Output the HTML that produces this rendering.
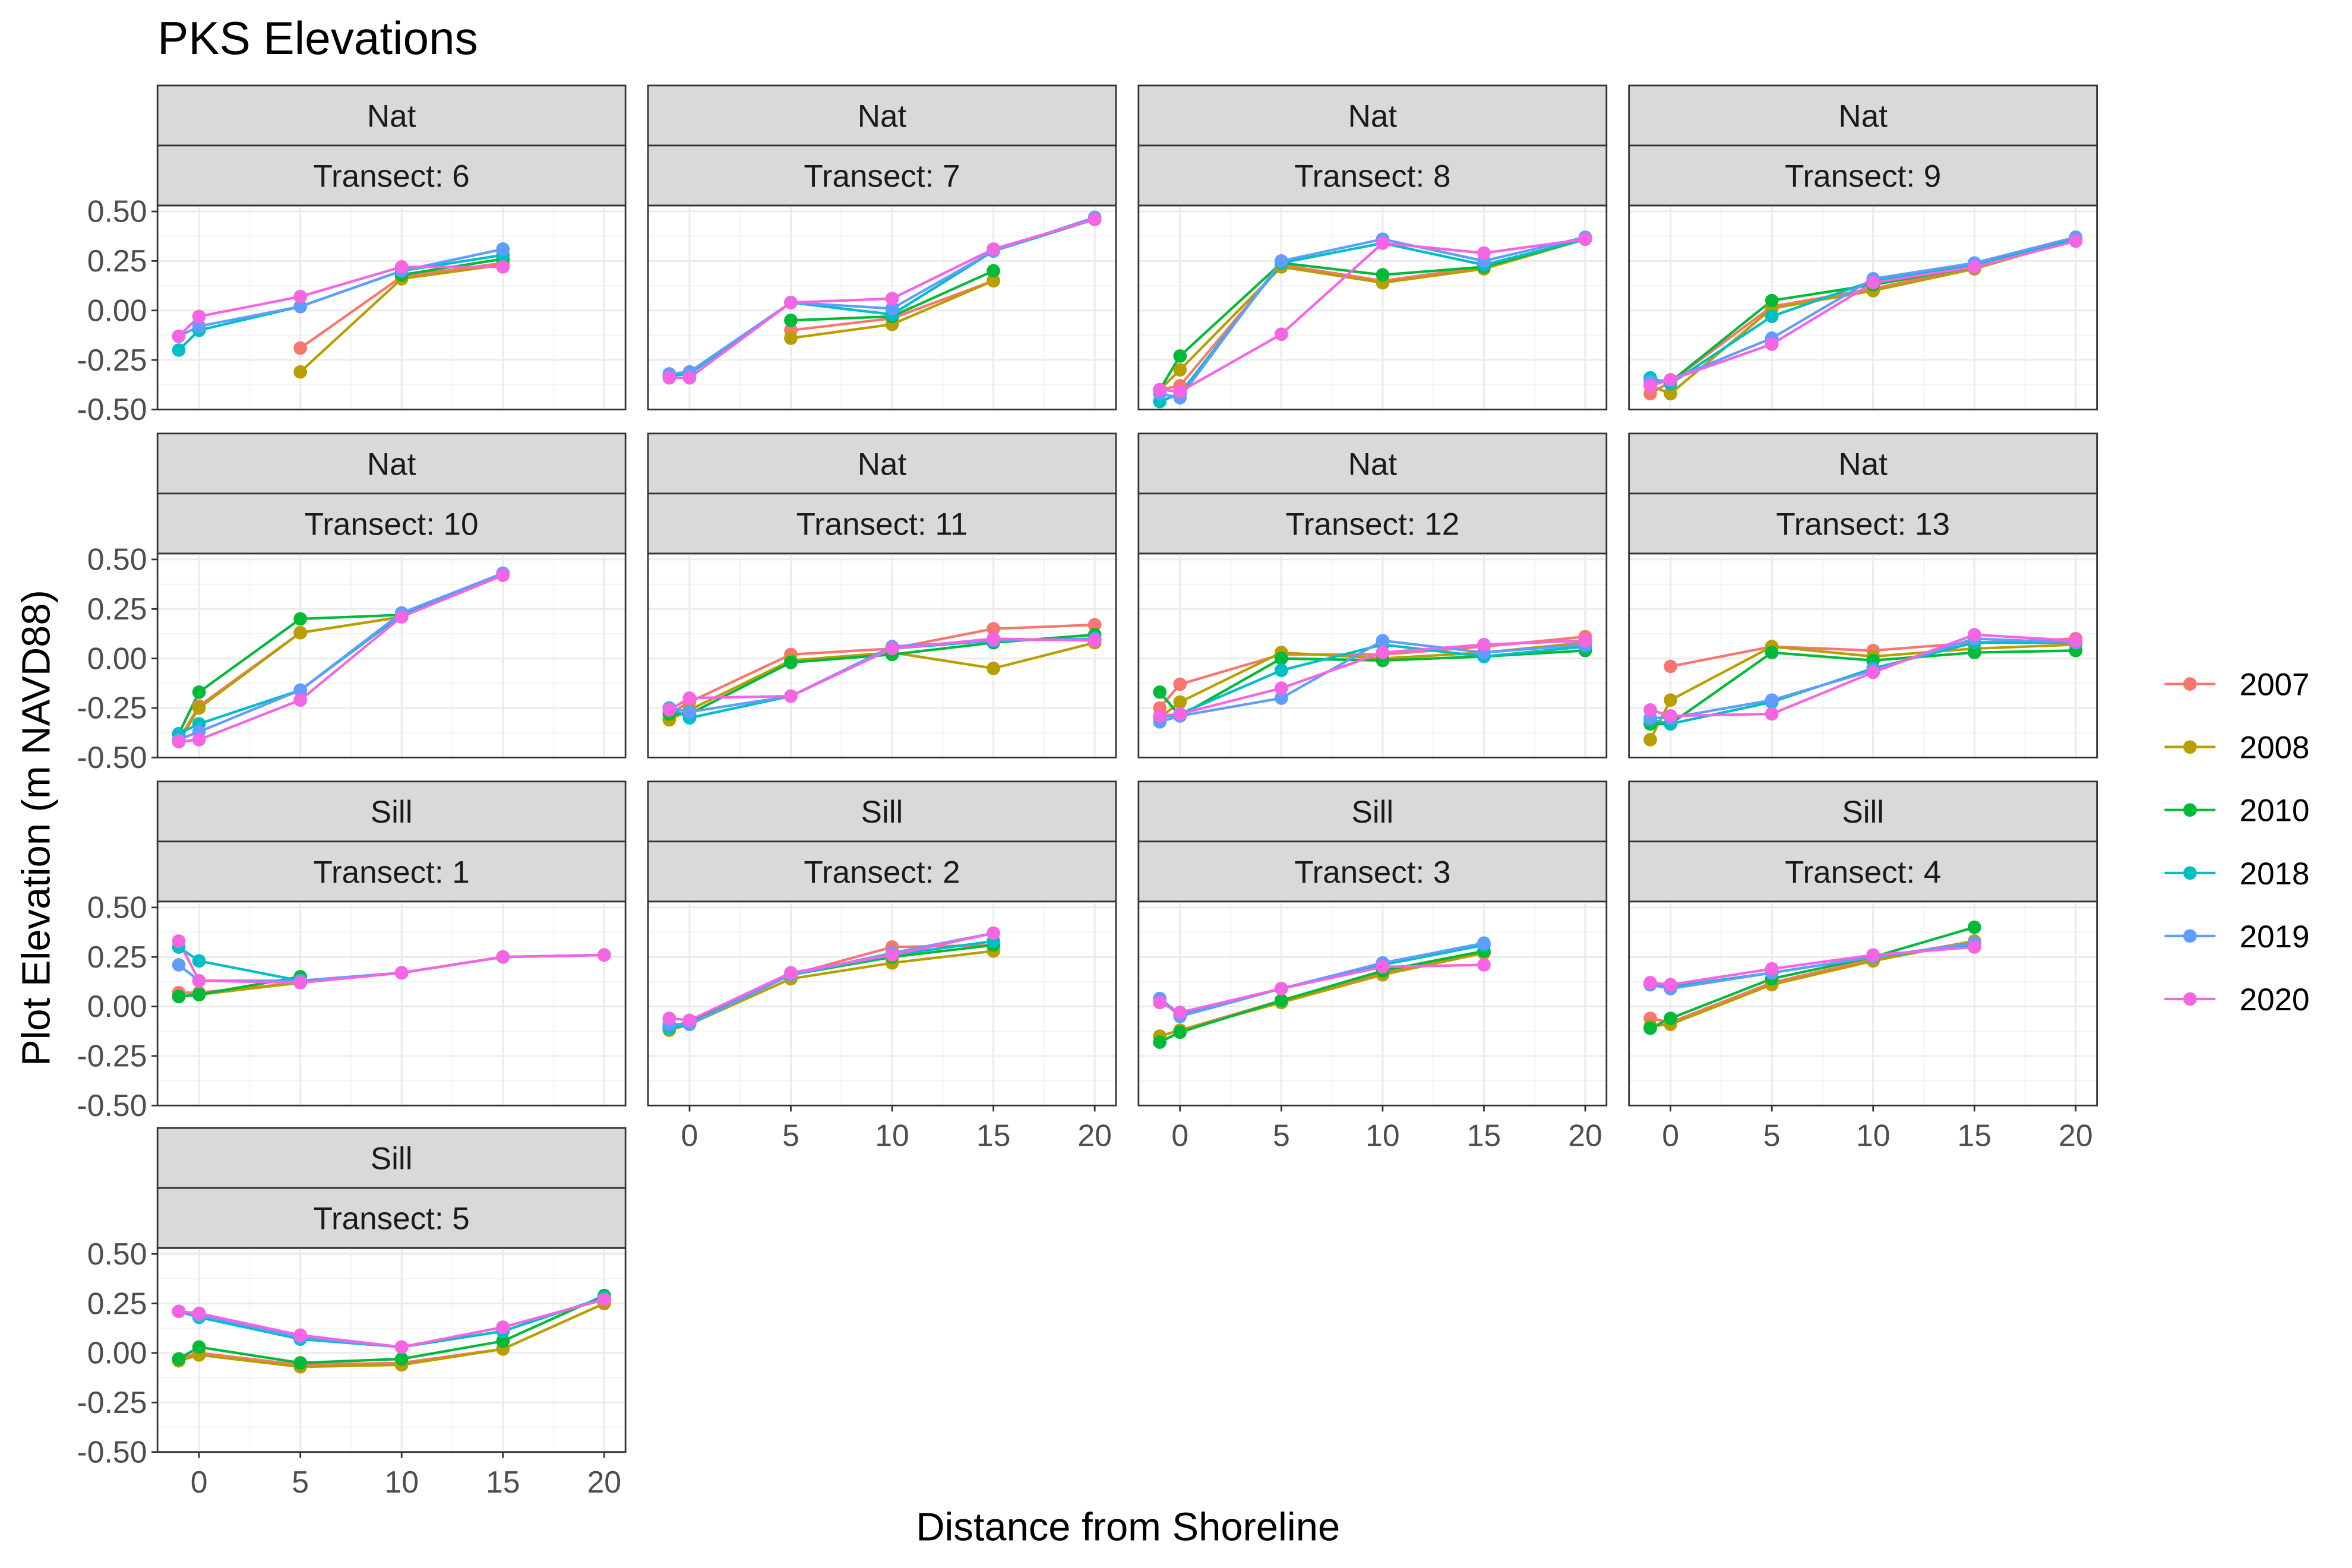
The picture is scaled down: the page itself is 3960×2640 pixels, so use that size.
<!DOCTYPE html>
<html><head><meta charset="utf-8"><style>
html,body{margin:0;padding:0;background:#fff}
svg{display:block;font-family:"Liberation Sans",Arial,sans-serif}
</style></head><body>
<svg id="chart" xmlns="http://www.w3.org/2000/svg" width="3960" height="2640" viewBox="0 0 1568 1045.33">
<rect width="1568" height="1046" fill="#fff"/>
<text x="105" y="36" font-size="31" fill="#000">PKS Elevations</text>
<text x="752" y="1027" font-size="26.5" text-anchor="middle" fill="#000">Distance from Shoreline</text>
<text transform="translate(33,552) rotate(-90)" font-size="26.5" text-anchor="middle" fill="#000">Plot Elevation (m NAVD88)</text>
<g id="panels"></g>
<g id="legend"></g>
</svg>
<script>
const xValues = [-1, 0, 5, 10, 15, 20];
const years = ["2007", "2008", "2010", "2018", "2019", "2020"];
const colors = ["#F8766D", "#B79F00", "#00BA38", "#00BFC4", "#619CFF", "#F564E3"];
const yTicks = [0.5, 0.25, 0, -0.25, -0.5];
const yTickLabels = ["0.50", "0.25", "0.00", "-0.25", "-0.50"];
const xTicks = [0, 5, 10, 15, 20];
const panelTypes = ["Nat","Nat","Nat","Nat","Nat","Nat","Nat","Nat","Sill","Sill","Sill","Sill","Sill"];
const panelTransects = [6,7,8,9,10,11,12,13,1,2,3,4,5];
const N = null;
const t6 = [[N,N,-0.19,0.17,0.24,N],[N,N,-0.31,0.16,0.23,N],[N,N,N,0.18,0.26,N],[-0.2,-0.1,0.02,0.2,0.28,N],[-0.13,-0.08,0.02,0.2,0.31,N],[-0.13,-0.03,0.07,0.22,0.22,N]];
const t7 = [[N,N,-0.1,-0.04,0.15,N],[N,N,-0.14,-0.07,0.15,N],[N,N,-0.05,-0.03,0.2,N],[-0.33,-0.32,0.04,-0.02,0.3,0.46],[-0.32,-0.31,0.04,0.01,0.3,0.47],[-0.34,-0.34,0.04,0.06,0.31,0.46]];
const t8 = [[-0.4,-0.38,0.23,0.15,0.22,0.36],[-0.4,-0.3,0.22,0.14,0.21,0.36],[-0.4,-0.23,0.24,0.18,0.22,0.36],[-0.46,-0.42,0.24,0.34,0.23,0.36],[-0.42,-0.44,0.25,0.36,0.25,0.37],[-0.4,-0.41,-0.12,0.34,0.29,0.36]];
const t9 = [[-0.42,-0.36,0.02,0.11,0.22,0.36],[-0.38,-0.42,0.01,0.1,0.21,0.36],[-0.36,-0.36,0.05,0.13,0.22,0.36],[-0.34,-0.37,-0.03,0.15,0.23,0.36],[-0.36,-0.35,-0.14,0.16,0.24,0.37],[-0.38,-0.35,-0.17,0.14,0.22,0.35]];
const t10 = [[-0.41,-0.24,0.13,0.21,N,N],[-0.42,-0.25,0.13,0.21,N,N],[-0.38,-0.17,0.2,0.22,N,N],[-0.38,-0.33,-0.16,0.22,0.43,N],[-0.41,-0.37,-0.16,0.23,0.43,N],[-0.42,-0.41,-0.21,0.21,0.42,N]];
const t11 = [[-0.28,-0.22,0.02,0.05,0.15,0.17],[-0.31,-0.26,-0.01,0.03,-0.05,0.08],[-0.28,-0.28,-0.02,0.02,0.08,0.12],[-0.25,-0.3,-0.19,0.05,0.09,0.1],[-0.25,-0.27,-0.19,0.06,0.09,0.1],[-0.26,-0.2,-0.19,0.05,0.1,0.09]];
const t12 = [[-0.25,-0.13,0.02,0.02,0.06,0.11],[-0.3,-0.22,0.03,0.0,0.03,0.08],[-0.17,-0.29,0.0,-0.01,0.01,0.04],[-0.3,-0.28,-0.06,0.07,0.01,0.06],[-0.32,-0.29,-0.2,0.09,0.03,0.07],[-0.29,-0.28,-0.15,0.03,0.07,0.09]];
const t13 = [[N,-0.04,0.06,0.04,0.08,0.1],[-0.41,-0.21,0.06,0.01,0.05,0.07],[-0.33,-0.33,0.03,-0.01,0.03,0.04],[-0.31,-0.33,-0.22,-0.05,0.08,0.08],[-0.3,-0.3,-0.21,-0.06,0.1,0.08],[-0.26,-0.29,-0.28,-0.07,0.12,0.09]];
const t1 = [[0.07,0.07,0.12,N,N,N],[0.05,0.06,0.12,N,N,N],[0.05,0.06,0.15,N,N,N],[0.3,0.23,0.13,0.17,0.25,0.26],[0.21,0.13,0.13,0.17,0.25,0.26],[0.33,0.13,0.12,0.17,0.25,0.26]];
const t2 = [[-0.1,-0.08,0.16,0.3,0.31,N],[-0.12,-0.09,0.14,0.22,0.28,N],[-0.1,-0.08,0.16,0.25,0.31,N],[-0.11,-0.09,0.16,0.26,0.33,N],[-0.09,-0.09,0.16,0.27,0.37,N],[-0.06,-0.07,0.17,0.26,0.37,N]];
const t3 = [[-0.15,-0.12,0.03,0.17,0.27,N],[-0.15,-0.12,0.02,0.16,0.27,N],[-0.18,-0.13,0.03,0.18,0.28,N],[0.04,-0.04,0.09,0.21,0.31,N],[0.04,-0.05,0.09,0.22,0.32,N],[0.02,-0.03,0.09,0.2,0.21,N]];
const t4 = [[-0.06,-0.08,0.12,0.24,0.33,N],[-0.1,-0.09,0.11,0.23,0.33,N],[-0.11,-0.06,0.14,0.25,0.4,N],[0.11,0.1,0.17,0.25,0.31,N],[0.11,0.09,0.17,0.25,0.32,N],[0.12,0.11,0.19,0.26,0.3,N]];
const t5 = [[-0.03,0.0,-0.06,-0.05,0.02,0.25],[-0.04,-0.01,-0.07,-0.06,0.02,0.25],[-0.03,0.03,-0.05,-0.03,0.06,0.29],[0.21,0.18,0.07,0.03,0.11,0.28],[0.21,0.19,0.08,0.03,0.13,0.27],[0.21,0.2,0.09,0.03,0.13,0.27]];
const panelData = [t6,t7,t8,t9,t10,t11,t12,t13,t1,t2,t3,t4,t5];

const NS = "http://www.w3.org/2000/svg";
function mk(tag, attrs, parent, text){const e=document.createElementNS(NS,tag);for(const k in attrs)e.setAttribute(k,attrs[k]);if(text!==undefined)e.textContent=text;parent.appendChild(e);return e;}
const colX=[105,432,759,1086], PW=312, rowY=[57,289,521,752], STRIP=40, PH=136;
const xMin=-2.05, xMax=21.05, yMin=-0.5, yMax=0.53;
const root=document.getElementById("panels");
panelData.forEach((series,i)=>{
  const col=i%4,row=Math.floor(i/4);
  const x0=colX[col], sTop=rowY[row], pTop=sTop+2*STRIP, pBot=pTop+PH;
  const sx=v=>x0+(v-xMin)/(xMax-xMin)*PW;
  const sy=v=>pBot-(v-yMin)/(yMax-yMin)*PH;
  const g=mk("g",{},root);
  
  
  const s1=mk("rect",{x:x0,y:sTop,width:PW,height:STRIP,fill:"#D9D9D9",stroke:"#333",'stroke-width':1.1},g);
  
  
  const t1e=mk("text",{x:x0+PW/2,y:sTop+27.5,'font-size':21,'text-anchor':'middle',fill:"#1A1A1A"},g,panelTypes[i]);
  
  
  const s2=mk("rect",{x:x0,y:sTop+STRIP,width:PW,height:STRIP,fill:"#D9D9D9",stroke:"#333",'stroke-width':1.1},g);
  
  
  const t2e=mk("text",{x:x0+PW/2,y:sTop+STRIP+27.5,'font-size':21,'text-anchor':'middle',fill:"#1A1A1A"},g,"Transect: "+panelTransects[i]);
  
  
  for(let v=-0.375;v<0.5;v+=0.25) mk("line",{x1:x0,x2:x0+PW,y1:sy(v),y2:sy(v),stroke:"#F2F2F2",'stroke-width':0.7},g);
  for(let v=-2.5;v<=22.5;v+=5){if(v>xMin&&v<xMax) mk("line",{x1:sx(v),x2:sx(v),y1:pTop,y2:pBot,stroke:"#F2F2F2",'stroke-width':0.7},g);}
  yTicks.forEach(v=>mk("line",{x1:x0,x2:x0+PW,y1:sy(v),y2:sy(v),stroke:"#EBEBEB",'stroke-width':1.2},g));
  xTicks.forEach(v=>mk("line",{x1:sx(v),x2:sx(v),y1:pTop,y2:pBot,stroke:"#EBEBEB",'stroke-width':1.2},g));
  series.forEach((vals,si)=>{
    let d="",pen=false;
    vals.forEach((v,k)=>{if(v===null){pen=false;return;}d+=(pen?"L":"M")+sx(xValues[k]).toFixed(2)+" "+sy(v).toFixed(2);pen=true;});
    const ln=mk("path",{d:d,fill:"none",stroke:colors[si],'stroke-width':1.7},g);
    
    
  });
  series.forEach((vals,si)=>{
    vals.forEach((v,k)=>{if(v===null)return;
      const c=mk("circle",{cx:sx(xValues[k]),cy:sy(v),r:4.5,fill:colors[si]},g);
      
      
    });
  });
  mk("rect",{x:x0,y:pTop,width:PW,height:PH,fill:"none",stroke:"#333",'stroke-width':1.1},g);
  if(col===0){
    yTicks.forEach((v,k)=>{
      mk("line",{x1:x0-4,x2:x0,y1:sy(v),y2:sy(v),stroke:"#333",'stroke-width':1.1},g);
      const tl=mk("text",{x:x0-7,y:sy(v)+7,'font-size':20.5,'text-anchor':'end',fill:"#4D4D4D"},g,yTickLabels[k]);
      
      
    });
  }
  const isBottom=(col===0&&row===3)||(col>0&&row===2);
  if(isBottom){
    xTicks.forEach(v=>{
      mk("line",{x1:sx(v),x2:sx(v),y1:pBot,y2:pBot+4,stroke:"#333",'stroke-width':1.1},g);
      const tl=mk("text",{x:sx(v),y:pBot+27,'font-size':20.5,'text-anchor':'middle',fill:"#4D4D4D"},g,String(v));
      
      
    });
  }
});
const lg=document.getElementById("legend");
years.forEach((y,i)=>{
  const yy=456+i*42;
  const e=mk("g",{},lg);
  
  
  mk("line",{x1:1443,x2:1477,y1:yy,y2:yy,stroke:colors[i],'stroke-width':1.7},e);
  mk("circle",{cx:1460,cy:yy,r:4.5,fill:colors[i]},e);
  mk("text",{x:1493,y:yy+7.5,'font-size':21,fill:"#000"},e,y);
});
</script>
</body></html>
